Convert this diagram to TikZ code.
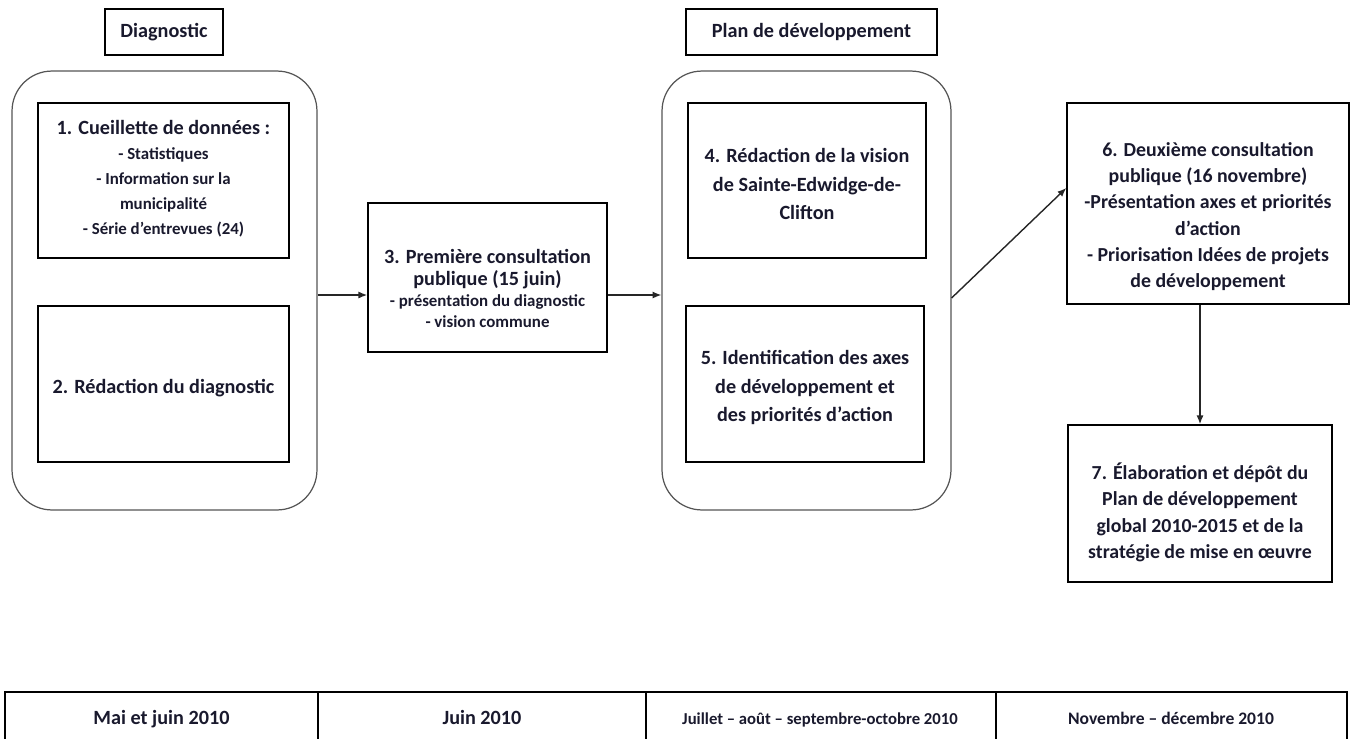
\documentclass[tikz,border=0pt]{standalone}
\usepackage{fontspec}
\setmainfont{Carlito}
\usetikzlibrary{arrows.meta, positioning}
\definecolor{framegray}{RGB}{85,85,85}
\definecolor{inknavy}{RGB}{25,25,45}
\newcommand{\boxbig}{\fontsize{11.5}{16.4}\selectfont\bfseries}
\newcommand{\boxsmall}{\fontsize{9.6}{14.2}\selectfont\bfseries}

\begin{document}
\begin{tikzpicture}[x=0.02cm, y=-0.02cm,
    box/.style={draw, line width=0.9pt, inner sep=0pt},
    phase/.style={draw=framegray, line width=0.7pt, rounded corners=0.8cm, inner sep=0pt},
    txt/.style={align=center, text=inknavy, inner sep=0pt},
    period/.style={txt, anchor=base},
    arr/.style={-{Latex[length=5pt,width=4pt]}, line width=0.8pt, draw=black!85}]
    \useasboundingbox (0,0) rectangle (1353,738);

    % Headers
    \node[box, minimum width=2.36cm, minimum height=0.92cm, txt, font=\boxbig] (diag) at (164,32) {Diagnostic};
    \node[box, minimum width=5.02cm, minimum height=0.92cm, txt, font=\boxbig] (plan) at (811.5,32) {Plan de développement};

    % Phase frames
    \node[phase, minimum width=6.10cm, minimum height=8.78cm] (c1) at (164.5,290.5) {};
    \node[phase, minimum width=5.78cm, minimum height=8.78cm] (c2) at (806.5,290.5) {};

    % Steps (frames, then text)
    \node[box, minimum width=5.02cm, minimum height=3.10cm] (b1) at (163.5,180.5) {};
    \node[box, minimum width=5.02cm, minimum height=3.12cm] (b2) at (163.5,384) {};
    \node[box, minimum width=4.78cm, minimum height=2.98cm] (b3) at (487.5,277.5) {};
    \node[box, minimum width=4.76cm, minimum height=3.10cm] (b4) at (807,180.5) {};
    \node[box, minimum width=4.76cm, minimum height=3.12cm] (b5) at (805,384) {};
    \node[box, minimum width=5.64cm, minimum height=4.02cm] (b6) at (1208,203.5) {};
    \node[box, minimum width=5.28cm, minimum height=3.14cm] (b7) at (1200,503.5) {};

    \node[txt, font=\boxsmall] (t1) at (163.5,178.5) {{\boxbig 1. Cueillette de données :}\\- Statistiques\\- Information sur la\\municipalité\\- Série d’entrevues (24)};
    \node[txt, font=\boxbig] (t2) at (163.5,388) {2. Rédaction du diagnostic};
    \node[txt, font=\fontsize{9.6}{12}\selectfont\bfseries] (t3) at (487.5,288.5) {{\fontsize{11.5}{13}\selectfont 3. Première consultation}\\{\fontsize{11.5}{13}\selectfont publique (15 juin)}\\- présentation du diagnostic\\- vision commune};
    \node[txt, font=\boxbig] (t4) at (807,184) {4. Rédaction de la vision\\de Sainte-Edwidge-de-\\Clifton};
    \node[txt, font=\boxbig] (t5) at (805,387.5) {5. Identification des axes\\de développement et\\des priorités d’action};
    \node[txt, font=\fontsize{11.3}{15}\selectfont\bfseries] (t6) at (1208,216.5) {6. Deuxième consultation\\publique (16 novembre)\\-Présentation axes et priorités\\d’action\\- Priorisation Idées de projets\\de développement};
    \node[txt, font=\fontsize{11.3}{15}\selectfont\bfseries] (t7) at (1200,512.5) {7. Élaboration et dépôt du\\Plan de développement\\global 2010-2015 et de la\\stratégie de mise en œuvre};

    % Connectors
    \coordinate (lvl) at (0,295);
    \coordinate (rise) at (0,298);
    \coordinate (land) at (0,188);
    \draw[arr] (c1.east |- lvl) -- (b3.west |- lvl);
    \draw[arr] (b3.east |- lvl) -- (c2.west |- lvl);
    \draw[arr] (c2.east |- rise) -- (b6.west |- land);
    \draw[arr] (b7.north |- b6.south) -- (b7.north);

    % Time line
    \draw[line width=0.8pt] (5,692) rectangle (1347,780);
    \draw[line width=1.4pt] (5,692) -- (1347,692);
    \foreach \x in {318,646,996}
        \draw[line width=0.8pt] (\x,692) -- (\x,780);
    \node[period, font=\boxbig] (p1) at (161.5,724) {Mai et juin 2010};
    \node[period, font=\boxbig] (p2) at (482,724) {Juin 2010};
    \node[period, font=\fontsize{9.5}{12}\selectfont\bfseries] (p3) at (820,724) {Juillet – août – septembre-octobre 2010};
    \node[period, font=\fontsize{10}{12}\selectfont\bfseries] (p4) at (1171,724) {Novembre – décembre 2010};
\end{tikzpicture}
\end{document}
